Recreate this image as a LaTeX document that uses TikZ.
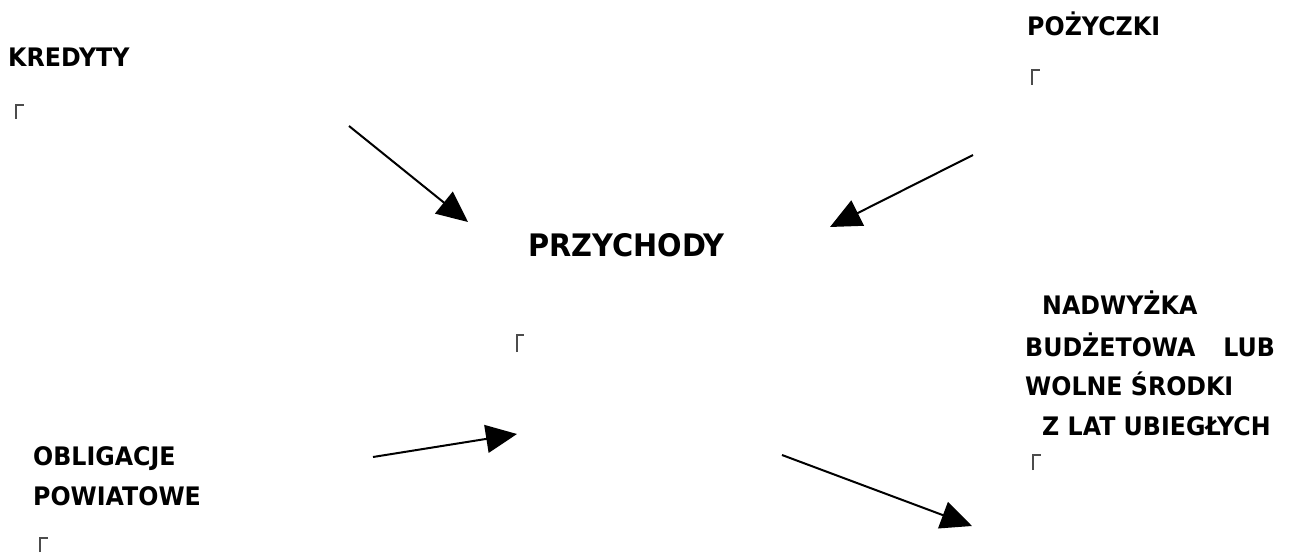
\documentclass[tikz,border=0pt]{standalone}
\usepackage{fontspec}
\setmainfont{DejaVu Sans}[FakeStretch=0.93]
\usetikzlibrary{arrows.meta}

\begin{document}
\begin{tikzpicture}[x=1pt,y=-1pt,
  lbl/.style={anchor=base west,inner sep=0pt,font=\fontsize{25.5}{30}\selectfont\bfseries},
  title/.style={anchor=base west,inner sep=0pt,font=\fontsize{31}{36}\selectfont\bfseries},
  flow/.style={-{Triangle[length=31pt,width=28pt]},line width=2pt},
  cornerline/.style={draw=black!70,line width=1.2pt}]
  \useasboundingbox (0,0) rectangle (1290,553);

  % labels
  \node[lbl] (kredyty) at (8,67) {KREDYTY};
  \node[lbl] (pozyczki) at (1027,36) {POŻYCZKI};
  \node[title] (przychody) at (528,257) {PRZYCHODY};
  \node[lbl] (nadw1) at (1042,315) {NADWYŻKA};
  \node[lbl] (nadw2) at (1025,356) {BUDŻETOWA\hspace{28pt}LUB};
  \node[lbl] (nadw3) at (1025,395) {WOLNE ŚRODKI};
  \node[lbl] (nadw4) at (1042,435) {Z LAT UBIEGŁYCH};
  \node[lbl] (oblig1) at (33,465) {OBLIGACJE};
  \node[lbl] (oblig2) at (33,505) {POWIATOWE};

  % frame corners
  \draw[cornerline] (16,119) |- (24,105);
  \draw[cornerline] (1032,85) |- (1040,70);
  \draw[cornerline] (517,352) |- (524,335);
  \draw[cornerline] (1033,470) |- (1041,455);
  \draw[cornerline] (40,552) |- (48,538);

  % arrows
  \coordinate (kStart) at (349,126);
  \coordinate (kEnd) at (468,222);
  \coordinate (pStart) at (973,155);
  \coordinate (pEnd) at (830,227);
  \coordinate (oStart) at (373,457);
  \coordinate (oEnd) at (517,434);
  \coordinate (nStart) at (782,455);
  \coordinate (nEnd) at (972,526);
  \draw[flow] (kStart) -- (kEnd);
  \draw[flow] (pStart) -- (pEnd);
  \draw[flow] (oStart) -- (oEnd);
  \draw[flow] (nStart) -- (nEnd);
\end{tikzpicture}
\end{document}
